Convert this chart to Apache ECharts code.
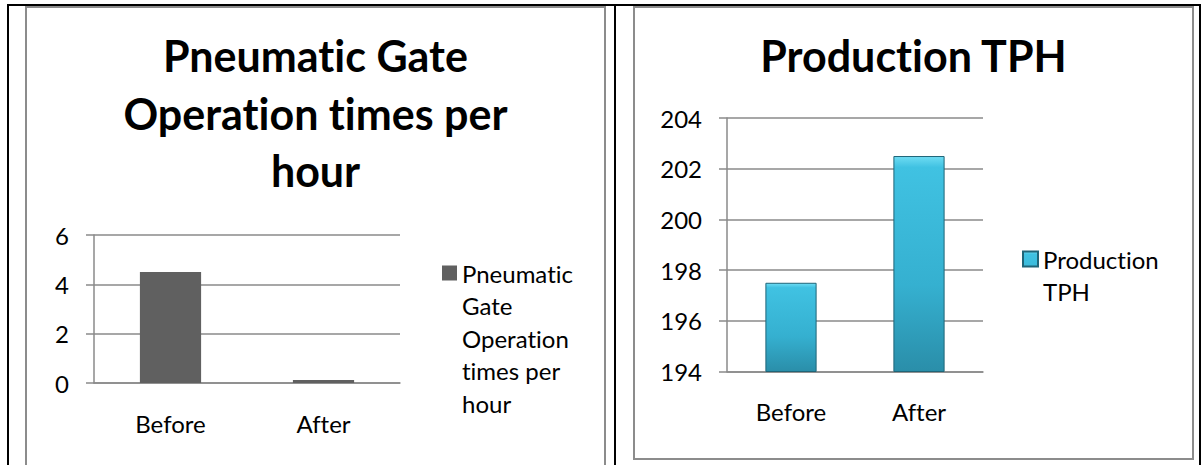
<!DOCTYPE html>
<html>
<head>
<meta charset="utf-8">
<script src="https://cdn.jsdelivr.net/npm/echarts@6/dist/echarts.min.js"></script>
<style>
  body { margin: 0; background: #fff; }
  .blk { position: absolute; background: #000; }
  .frame { position: absolute; border: 2px solid #8c8c8c; box-sizing: border-box; }
  .chart { position: absolute; }
  .chart text { font-variant-ligatures: none; }
</style>
</head>
<body>
<!-- table lines -->
<div class="blk" style="left:7px;top:4px;width:1194px;height:2px"></div>
<div class="blk" style="left:7px;top:4px;width:2px;height:461px"></div>
<div class="blk" style="left:614px;top:4px;width:2px;height:461px"></div>
<div class="blk" style="left:1199px;top:4px;width:2px;height:461px"></div>
<!-- chart frames -->
<div class="frame" style="left:25px;top:6px;width:581px;height:470px"></div>
<div class="frame" style="left:633px;top:6px;width:561px;height:454px"></div>

<div id="c1" class="chart" style="left:27px;top:8px;width:577px;height:457px"></div>
<div id="c2" class="chart" style="left:635px;top:8px;width:557px;height:450px"></div>

<script>
// chart 1 data
const cats = ['Before', 'After'];
const gateName = 'Pneumatic Gate Operation times per hour';
const gateValues = [4.5, 0.12];
const gateTicks = { min: 0, max: 6, step: 2 };
// chart 2 data
const tphName = 'Production TPH';
const tphValues = [197.5, 202.5];
const tphTicks = { min: 194, max: 204, step: 2 };

const font = 'Lato, "Open Sans", sans-serif';
const gridColor = '#8a8a8a';

function axes(ticks) {
  return {
    xAxis: {
      type: 'category',
      data: cats,
      axisLine: { lineStyle: { color: gridColor, width: 1.5 } },
      axisTick: { length: 8, lineStyle: { color: gridColor, width: 1.5 } },
      axisLabel: { color: '#000', fontFamily: font, fontSize: 24, margin: 28 }
    },
    yAxis: {
      type: 'value',
      min: ticks.min, max: ticks.max, interval: ticks.step,
      axisLine: { show: true, lineStyle: { color: gridColor, width: 1.5 } },
      axisTick: { show: true, length: 8, lineStyle: { color: gridColor, width: 1.5 } },
      splitLine: { lineStyle: { color: gridColor, width: 1.5 } },
      axisLabel: { color: '#000', fontFamily: font, fontSize: 24, margin: 25 }
    }
  };
}

// legend square sits at the first text line: tall icon box, square near its top
function topSquare(h, lineH) {
  const a = lineH / 2 - 7.5, b = a + 15;
  return 'path://M0,0L0,0M0,' + a + 'L15,' + a + 'L15,' + b + 'L0,' + b + 'ZM15,' + h + 'L15,' + h;
}

const titleStyle = { fontFamily: font, fontWeight: 'bold', fontSize: 43, lineHeight: 57.5, color: '#000' };

// left chart
let chart1 = echarts.init(document.getElementById('c1'), null, { renderer: 'svg' });
chart1.setOption(Object.assign({
  animation: false,
  title: {
    text: 'Pneumatic Gate\nOperation times per\nhour',
    left: 'center', top: 19, padding: 0,
    textStyle: titleStyle
  },
  legend: {
    left: 415, top: 248.75, padding: 0,
    itemWidth: 15, itemHeight: 162.5, icon: topSquare(162.5, 32.5),
    formatter: () => 'Pneumatic\nGate\nOperation\ntimes per\nhour',
    textStyle: { fontFamily: font, fontSize: 24, lineHeight: 32.5, color: '#000' }
  },
  grid: { left: 67, top: 227, width: 306, height: 148 },
  series: [{
    name: gateName, type: 'bar', data: gateValues, barWidth: '40%',
    itemStyle: { color: '#606060' }
  }]
}, axes(gateTicks)));

// right chart
const tphFill = new echarts.graphic.LinearGradient(0, 0, 0, 1, [
  { offset: 0, color: '#6fdcf3' },
  { offset: 0.05, color: '#40c2e2' },
  { offset: 0.6, color: '#35b0d0' },
  { offset: 1, color: '#2a8ea9' }
]);
let chart2 = echarts.init(document.getElementById('c2'), null, { renderer: 'svg' });
chart2.setOption(Object.assign({
  animation: false,
  title: {
    text: tphName,
    left: 'center', top: 19, padding: 0,
    textStyle: titleStyle
  },
  legend: {
    left: 387, top: 234, padding: 0,
    itemWidth: 15, itemHeight: 64, icon: topSquare(64, 32),
    formatter: () => 'Production\nTPH',
    textStyle: { fontFamily: font, fontSize: 24, lineHeight: 32, color: '#000' }
  },
  grid: { left: 92, top: 110, width: 256, height: 253.5 },
  series: [{
    name: tphName, type: 'bar', data: tphValues, barWidth: '40%',
    itemStyle: { color: tphFill, borderColor: '#1f6578', borderWidth: 1 }
  }]
}, axes(tphTicks)));
</script>
</body>
</html>
